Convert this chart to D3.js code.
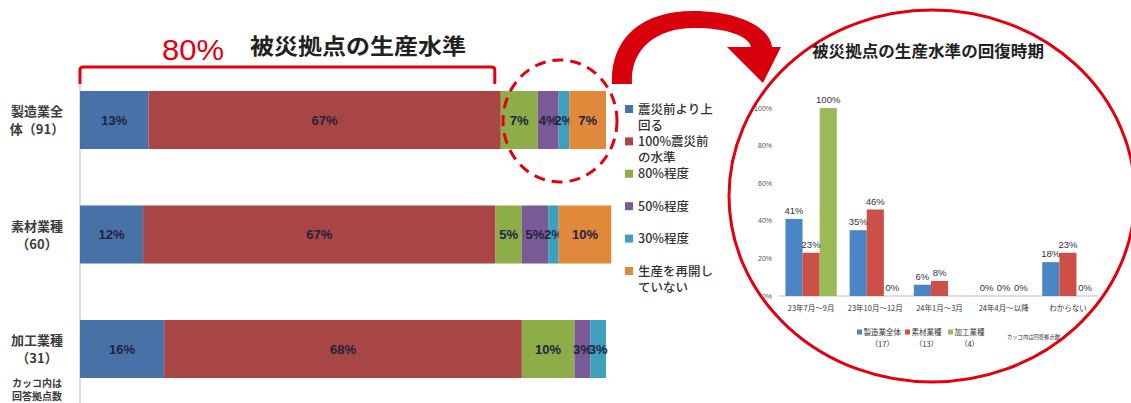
<!DOCTYPE html>
<html><head><meta charset="utf-8">
<script src="https://cdn.jsdelivr.net/npm/d3@7"></script>
<style>body{margin:0;background:#fff} svg{display:block}</style>
</head><body><svg id="c" width="1131" height="403"></svg>
<script>
// ---- Production level of affected sites (stacked 100% bars) ----
const levelCategories = ["製造業全体（91）", "素材業種（60）", "加工業種（31）"];
const levelCategoryLines = [["製造業全", "体（91）"], ["素材業種", "（60）"], ["加工業種", "（31）"]];
const levelSeries = ["震災前より上回る", "100%震災前の水準", "80%程度", "50%程度", "30%程度", "生産を再開していない"];
const levelLegendLines = [["震災前より上", "回る"], ["100%震災前", "の水準"], ["80%程度"], ["50%程度"], ["30%程度"], ["生産を再開し", "ていない"]];
const aboveBefore = [13, 12, 16];
const fullLevel = [67, 67, 68];
const level80 = [7, 5, 10];
const level50 = [4, 5, 3];
const level30 = [2, 2, 3];
const notResumed = [7, 10, 0];

// ---- Recovery timing of production level ----
const recoveryPeriods = ["23年7月～9月", "23年10月～12月", "24年1月～3月", "24年4月～以降", "わからない"];
const recoverySeries = ["製造業全体", "素材業種", "加工業種"];
const recoveryCounts = ["（17）", "（13）", "（4）"];
const allManufacturing = [41, 35, 6, 0, 18];
const materialIndustries = [23, 46, 8, 0, 23];
const processingIndustries = [100, 0, null, 0, 0];
const recoveryTicks = [0, 20, 40, 60, 80, 100];

const JP = "'Noto Sans CJK JP', 'Noto Sans', sans-serif";
const LAT = "'Liberation Sans', Arial, sans-serif";
const RED = "#e3000f";

const svg = d3.select("#c");

// ================= left chart =================
const levelColors = ["#4672a8", "#a84545", "#8cad48", "#7a5a96", "#3fa0bd", "#e0893a"];
const levelCols = [aboveBefore, fullLevel, level80, level50, level30, notResumed];
const levelRows = levelCategories.map((c, i) => {
  const r = { cat: c };
  levelSeries.forEach((s, j) => r[s] = levelCols[j][i]);
  return r;
});
const stack = d3.stack().keys(levelSeries)(levelRows);

const xL = d3.scaleLinear().domain([0, 100]).range([80, 606]);
const yL = d3.scaleBand().domain(levelCategories).range([62.8, 406.2]).paddingInner(0.493).paddingOuter(0.246);

// category axis line
svg.append("line").attr("x1", xL(0)).attr("x2", xL(0)).attr("y1", 80).attr("y2", 403)
  .attr("stroke", "#c4c4c4").attr("stroke-width", 1.2);

const layers = svg.append("g").selectAll("g").data(stack).join("g")
  .attr("fill", (d, i) => levelColors[i]);
layers.selectAll("rect").data(d => d.map(p => ({ p, key: d.key }))).join("rect")
  .attr("x", d => xL(d.p[0]))
  .attr("width", d => xL(d.p[1]) - xL(d.p[0]))
  .attr("y", d => yL(d.p.data.cat))
  .attr("height", yL.bandwidth());

layers.selectAll("text").data(d => d.map(p => ({ p, key: d.key })).filter(d => d.p[1] - d.p[0] > 0)).join("text")
  .attr("x", d => (xL(d.p[0]) + xL(d.p[1])) / 2)
  .attr("y", d => yL(d.p.data.cat) + yL.bandwidth() / 2)
  .attr("dy", "0.36em")
  .attr("text-anchor", "middle")
  .attr("font-family", LAT).attr("font-size", 13).attr("font-weight", "bold")
  .attr("fill", "#23233f")
  .text(d => (d.p[1] - d.p[0]) + "%");

// category labels
levelCategories.forEach((c, i) => {
  const cy = yL(c) + yL.bandwidth() / 2;
  levelCategoryLines[i].forEach((ln, k) => {
    svg.append("text").attr("x", 37).attr("y", cy - 8.5 + k * 18).attr("dy", "0.36em")
      .attr("text-anchor", "middle").attr("font-family", JP).attr("font-size", 13)
      .attr("font-weight", "bold").attr("fill", "#3c3c3c").text(ln);
  });
});
["カッコ内は", "回答拠点数"].forEach((ln, k) => {
  svg.append("text").attr("x", 37).attr("y", 383 + k * 13).attr("dy", "0.36em")
    .attr("text-anchor", "middle").attr("font-family", JP).attr("font-size", 10)
    .attr("font-weight", "bold").attr("fill", "#3c3c3c").text(ln);
});

// legend
levelLegendLines.forEach((lines, i) => {
  const ly = 109 + i * 32.4;
  svg.append("rect").attr("x", 625).attr("y", ly - 4).attr("width", 8).attr("height", 8)
    .attr("fill", levelColors[i]);
  lines.forEach((ln, k) => {
    svg.append("text").attr("x", 638).attr("y", ly + k * 16).attr("dy", "0.36em")
      .attr("font-family", JP).attr("font-size", 12.5).attr("font-weight", 500)
      .attr("fill", "#333").text(ln);
  });
});

// title and 80% bracket
svg.append("text").attr("x", 250).attr("y", 54).attr("font-family", JP).attr("font-size", 22)
  .attr("font-weight", "bold").attr("fill", "#222").attr("textLength", 216)
  .attr("lengthAdjust", "spacingAndGlyphs").text("被災拠点の生産水準");
svg.append("text").attr("x", 162).attr("y", 60).attr("font-family", LAT).attr("font-size", 29)
  .attr("fill", RED).attr("textLength", 62).attr("lengthAdjust", "spacingAndGlyphs").text("80%");
const bracketRight = xL(aboveBefore[0] + fullLevel[0]) - 6;
svg.append("path")
  .attr("d", `M${xL(0)},84 L${xL(0)},70 Q${xL(0)},67 ${xL(0) + 3},67 L${bracketRight - 3},67 Q${bracketRight},67 ${bracketRight},70 L${bracketRight},84`)
  .attr("fill", "none").attr("stroke", RED).attr("stroke-width", 3);

// dashed highlight around the remaining shares
svg.append("ellipse").attr("cx", 560).attr("cy", 121).attr("rx", 57).attr("ry", 61)
  .attr("fill", "none").attr("stroke", RED).attr("stroke-width", 3).attr("stroke-dasharray", "11,7");

// curved arrow
svg.append("path")
  .attr("d", "M612,84 C610,40 640,11 693,11 C740,11 770,28 772,47 L781,47 L763,83 L727,47 L751,47 C749,36 727,28 694,28 C655,28 630,50 632,84 Z")
  .attr("fill", "#d8000c");

// ================= right chart =================
svg.append("ellipse").attr("cx", 932).attr("cy", 196).attr("rx", 203).attr("ry", 186)
  .attr("fill", "none").attr("stroke", RED).attr("stroke-width", 3);

svg.append("text").attr("x", 928).attr("y", 57).attr("text-anchor", "middle")
  .attr("font-family", JP).attr("font-size", 16).attr("font-weight", "bold").attr("fill", "#222")
  .attr("textLength", 232).attr("lengthAdjust", "spacingAndGlyphs").text("被災拠点の生産水準の回復時期");

const recColors = ["#4a86c6", "#cc5048", "#9bbb59"];
const recCols = [allManufacturing, materialIndustries, processingIndustries];
const x0 = d3.scaleBand().domain(recoveryPeriods).range([779, 1100]).paddingInner(0.2).paddingOuter(0.1);
const x1 = d3.scaleBand().domain(recoverySeries).range([0, x0.bandwidth()]);
const yR = d3.scaleLinear().domain([0, 100]).range([296, 108]);

// y tick labels
svg.append("g").selectAll("text").data(recoveryTicks).join("text")
  .attr("x", 772).attr("y", d => yR(d)).attr("dy", "0.36em").attr("text-anchor", "end")
  .attr("font-family", LAT).attr("font-size", 7).attr("fill", "#555").text(d => d + "%");

// baseline
svg.append("line").attr("x1", 779).attr("x2", 1098).attr("y1", yR(0)).attr("y2", yR(0))
  .attr("stroke", "#bdbdbd").attr("stroke-width", 1);

const recData = [];
recoveryPeriods.forEach((p, i) => recoverySeries.forEach((s, j) => {
  recData.push({ p, s, j, v: recCols[j][i] });
}));
svg.append("g").selectAll("rect").data(recData.filter(d => d.v)).join("rect")
  .attr("x", d => x0(d.p) + x1(d.s)).attr("width", x1.bandwidth())
  .attr("y", d => yR(d.v)).attr("height", d => yR(0) - yR(d.v))
  .attr("fill", d => recColors[d.j]);
svg.append("g").selectAll("text").data(recData.filter(d => d.v !== null)).join("text")
  .attr("x", d => x0(d.p) + x1(d.s) + x1.bandwidth() / 2)
  .attr("y", d => yR(d.v) - 5)
  .attr("text-anchor", "middle").attr("font-family", LAT).attr("font-size", 9.5)
  .attr("fill", "#333").text(d => d.v + "%");

// category labels
svg.append("g").selectAll("text").data(recoveryPeriods).join("text")
  .attr("x", d => x0(d) + x0.bandwidth() / 2).attr("y", 308).attr("dy", "0.36em")
  .attr("text-anchor", "middle").attr("font-family", JP).attr("font-size", 7.5)
  .attr("fill", "#333").text(d => d);

// legend
const legX = [857, 905, 948];
recoverySeries.forEach((s, j) => {
  svg.append("rect").attr("x", legX[j]).attr("y", 329.5).attr("width", 5).attr("height", 5).attr("fill", recColors[j]);
  svg.append("text").attr("x", legX[j] + 6.5).attr("y", 332).attr("dy", "0.36em")
    .attr("font-family", JP).attr("font-size", 7.5).attr("fill", "#333").text(s);
  svg.append("text").attr("x", legX[j] + 6.5 + s.length * 3.75).attr("y", 344).attr("dy", "0.36em")
    .attr("text-anchor", "middle").attr("font-family", JP).attr("font-size", 7.5)
    .attr("fill", "#333").text(recoveryCounts[j]);
});
svg.append("text").attr("x", 1007).attr("y", 337).attr("dy", "0.36em")
  .attr("font-family", JP).attr("font-size", 5.3).attr("fill", "#333").text("カッコ内は回答拠点数");
</script>
</body></html>
